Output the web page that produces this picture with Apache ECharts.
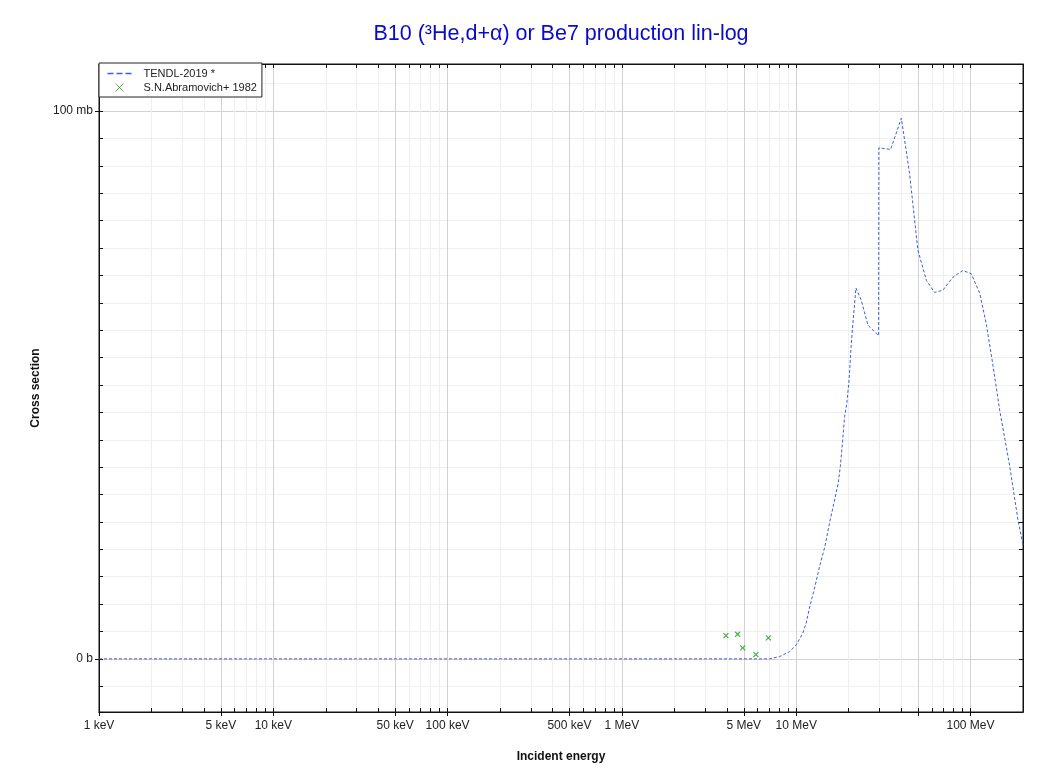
<!DOCTYPE html>
<html>
<head>
<meta charset="utf-8">
<script src="https://cdn.jsdelivr.net/npm/echarts@6/dist/echarts.min.js"></script>
<style>
html,body{margin:0;padding:0;background:#fff;}
#chart{width:1053px;height:773px;}
</style>
</head>
<body>
<div id="chart"></div>
<script>
// TENDL-2019 evaluated curve: energy (MeV), cross section (mb)
var tendlE = [0.001, 1, 6, 7.04, 8.03, 9.17, 10.0, 10.9, 11.4, 11.9, 12.8, 13.6, 14.6, 15.5, 16.6, 17.4,
  17.9, 18.4, 18.95, 19.5, 20.1, 20.7, 21.3, 22.0, 23.6, 25.8, 29.7, 29.8, 34.8, 40.1, 44.7, 49.9,
  55.8, 62.2, 69.4, 79.3, 90.4, 101, 113, 123, 134, 147, 168, 187, 200];
var tendlXS = [0, 0, 0, 0, 0.42, 1.33, 2.55, 4.69, 6.51, 9.25, 13.2, 16.8, 20.5, 24.7, 29.0, 32.0,
  35.1, 39.3, 44.2, 46.6, 50.9, 57.6, 62.4, 67.7, 65.5, 60.9, 59.0, 93.3, 93.0, 98.7, 88.6, 74.6,
  69.1, 66.9, 67.3, 69.7, 70.9, 70.3, 66.7, 61.2, 53.9, 45.4, 35.1, 25.4, 20.8];

// S.N.Abramovich+ 1982 measured points
var expE = [3.95, 4.61, 4.93, 5.87, 6.92];
var expXS = [4.25, 4.5, 2.0, 0.78, 3.83];

// tick positions
var xMajor = [0.001, 0.005, 0.01, 0.05, 0.1, 0.5, 1, 5, 10, 50, 100];
var xLabelVals = [0.001, 0.005, 0.01, 0.05, 0.1, 0.5, 1, 5, 10, 100];
var xAll = [];
[0.001, 0.01, 0.1, 1, 10, 100].forEach(function (d) {
  for (var k = 1; k <= 9; k++) {
    var v = +(d * k).toPrecision(6);
    if (v <= 200) xAll.push(v);
  }
});
xAll.push(200);
var yMajor = [0, 100];
var yAll = [];
for (var y = -5; y <= 105; y += 5) yAll.push(y);

var xMin = 0.001, xMax = 200, yMin = -9.7, yMax = 108.6;

function energyLabel(v) {
  if (v >= 1) return (+v.toPrecision(6)) + ' MeV';
  return (+(v * 1000).toPrecision(6)) + ' keV';
}

var chart = echarts.init(document.getElementById('chart'));

var exData = expE.map(function (e, i) { return [e, expXS[i]]; });
var tdData = tendlE.map(function (e, i) { return [e, tendlXS[i]]; });

var crossPath = 'path://M0,0L10,10M10,0L0,10';
var font = 'Liberation Sans, Arial, sans-serif';
var green = '#1a9e1a';
var blue = '#3a5fe0';

var option = {
  animation: false,
  backgroundColor: '#fff',
  title: {
    text: 'B10 (³He,d+α) or Be7 production lin-log',
    left: 556, top: 18, textAlign: 'center',
    textStyle: { color: '#0a0acc', fontSize: 21.5, fontWeight: 'normal', fontFamily: font }
  },
  legend: {
    left: 99, top: 63,
    orient: 'vertical',
    backgroundColor: '#fff',
    borderColor: '#222', borderWidth: 1, borderRadius: 0,
    padding: [5, 5, 4, 8],
    itemGap: 3,
    itemWidth: 24, itemHeight: 11,
    textStyle: { fontSize: 11, color: '#222', fontFamily: font, padding: [0, 0, 0, 7] },
    data: [
      { name: 'TENDL-2019 *', icon: 'path://M0,0L6,0L6,1.3L0,1.3Z M9,0L15,0L15,1.3L9,1.3Z M18,0L24,0L24,1.3L18,1.3Z', itemStyle: { color: blue, borderWidth: 0 } },
      { name: 'S.N.Abramovich+ 1982', icon: 'path://M-8,0L-8,0M0,0L8,8M8,0L0,8M16,0L16,0', itemStyle: { color: 'rgba(0,0,0,0)', borderColor: green, borderWidth: 1 } }
    ]
  },
  grid: {
    left: 99, right: 30, top: 64, bottom: 61,
    show: true, borderColor: '#111', borderWidth: 1, containLabel: false
  },
  xAxis: [
    {
      type: 'log', logBase: 10, min: xMin, max: xMax, position: 'bottom',
      axisLine: { show: true, onZero: false, lineStyle: { color: '#111' } },
      axisTick: { show: true, inside: true, length: 4, customValues: xAll, lineStyle: { color: '#111' } },
      axisLabel: { show: false },
      splitLine: { show: true, lineStyle: { color: '#efefef', width: 1 } }
    },
    {
      type: 'log', logBase: 10, min: xMin, max: xMax, position: 'bottom',
      axisLine: { show: true, onZero: false, lineStyle: { color: '#111' } },
      axisTick: { show: true, inside: false, length: 4, customValues: xMajor, lineStyle: { color: '#111' } },
      axisLabel: {
        show: true, customValues: xLabelVals, margin: 8,
        fontSize: 12, color: '#222', fontFamily: font,
        formatter: function (v) { return energyLabel(v); }
      },
      splitLine: { show: true, lineStyle: { color: '#d2d2d2', width: 1 } },
      name: 'Incident energy', nameLocation: 'middle', nameGap: 39,
      nameTextStyle: { fontSize: 12, fontWeight: 'bold', color: '#111', fontFamily: font }
    },
    {
      type: 'log', logBase: 10, min: xMin, max: xMax, position: 'top',
      axisLine: { show: true, onZero: false, lineStyle: { color: '#111' } },
      axisTick: { show: true, inside: true, length: 4, customValues: xAll, lineStyle: { color: '#111' } },
      axisLabel: { show: false },
      splitLine: { show: false }
    }
  ],
  yAxis: [
    {
      type: 'value', min: yMin, max: yMax, position: 'left',
      axisLine: { show: true, onZero: false, lineStyle: { color: '#111' } },
      axisTick: { show: true, inside: true, length: 4, customValues: yAll, lineStyle: { color: '#111' } },
      axisLabel: { show: false },
      splitLine: { show: true, lineStyle: { color: '#efefef', width: 1 } }
    },
    {
      type: 'value', min: yMin, max: yMax, position: 'left',
      axisLine: { show: true, onZero: false, lineStyle: { color: '#111' } },
      axisTick: { show: true, inside: false, length: 4, customValues: yMajor, lineStyle: { color: '#111' } },
      axisLabel: {
        show: true, customValues: yMajor, margin: 6,
        fontSize: 12, color: '#222', fontFamily: font,
        formatter: function (v) { return v === 0 ? '0 b' : v + ' mb'; }
      },
      splitLine: { show: true, lineStyle: { color: '#d2d2d2', width: 1 } },
      name: 'Cross section', nameLocation: 'middle', nameGap: 53,
      nameTextStyle: { fontSize: 12, fontWeight: 'bold', color: '#111', fontFamily: font }
    },
    {
      type: 'value', min: yMin, max: yMax, position: 'right',
      axisLine: { show: true, onZero: false, lineStyle: { color: '#111' } },
      axisTick: { show: true, inside: true, length: 4, customValues: yAll, lineStyle: { color: '#111' } },
      axisLabel: { show: false },
      splitLine: { show: false }
    }
  ],
  series: [
    {
      name: 'TENDL-2019 *',
      type: 'line',
      xAxisIndex: 1, yAxisIndex: 1,
      data: tdData,
      showSymbol: false, symbol: 'none',
      lineStyle: { color: blue, width: 1, type: [3, 2] },
      itemStyle: { color: blue },
      z: 3
    },
    {
      name: 'S.N.Abramovich+ 1982',
      type: 'scatter',
      xAxisIndex: 1, yAxisIndex: 1,
      data: exData,
      symbol: crossPath,
      symbolSize: 5,
      itemStyle: { color: 'rgba(0,0,0,0)', borderColor: green, borderWidth: 1.2 },
      z: 4
    }
  ]
};

chart.setOption(option);
</script>
</body>
</html>
